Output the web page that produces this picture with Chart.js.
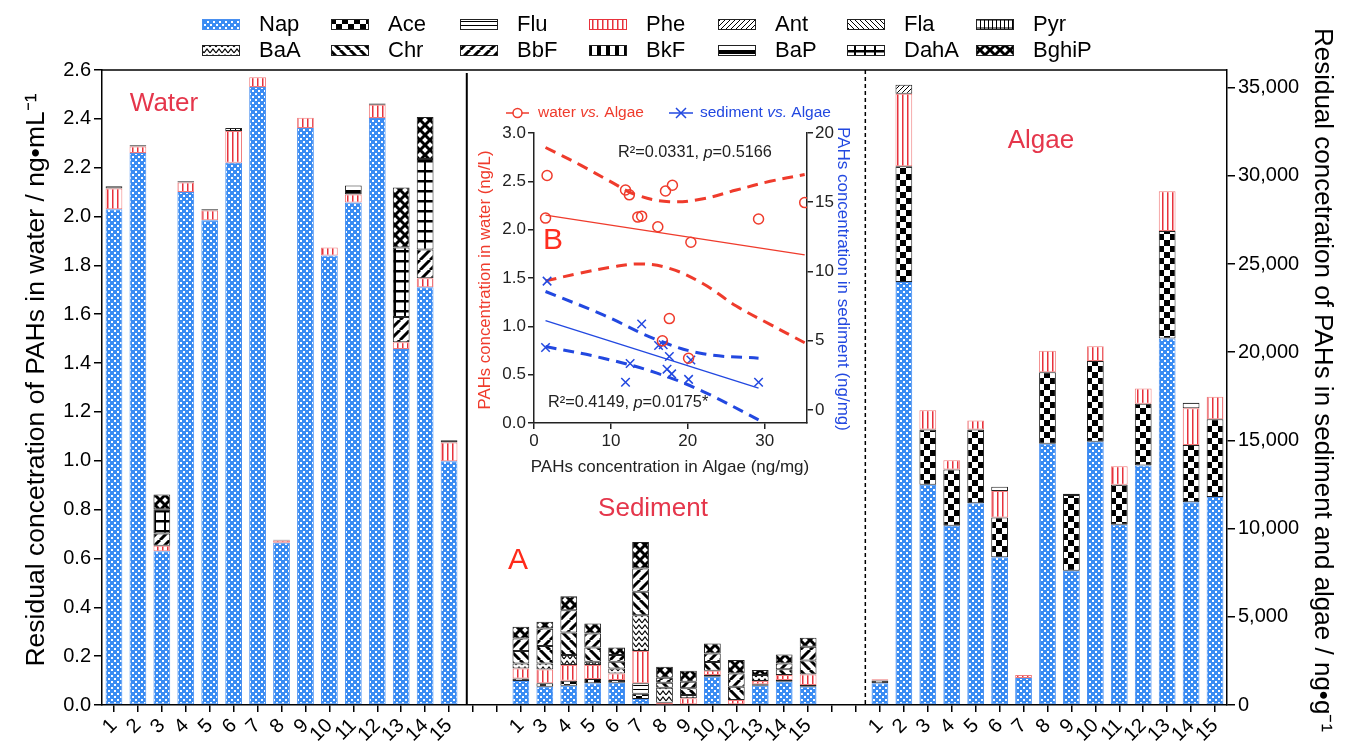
<!DOCTYPE html>
<html><head><meta charset="utf-8">
<script src="https://cdn.jsdelivr.net/npm/chart.js@4.4.1/dist/chart.umd.min.js"></script>
<style>
html,body{margin:0;padding:0;background:#fff;}
#wrap{position:relative;width:1347px;height:749px;overflow:hidden;}
#main{position:absolute;left:0;top:0;}
#inset{position:absolute;left:470px;top:85px;}
</style></head><body>
<div id="wrap"><canvas id="main" width="1347" height="749"></canvas><canvas id="inset" width="385" height="395"></canvas></div>
<script>
const FONT = "'Liberation Sans', Arial, Helvetica, sans-serif";

// ---------- categories ----------
const compounds = ['Nap','Ace','Flu','Phe','Ant','Fla','Pyr','BaA','Chr','BbF','BkF','BaP','DahA','BghiP'];
const waterSites = ['1','2','3','4','5','6','7','8','9','10','11','12','13','14','15'];
const sedimentSites = ['1','3','4','5','6','7','8','9','10','12','13','14','15'];
const algaeSites = ['1','2','3','4','5','6','7','8','9','10','11','12','13','14','15'];
const gapLabels = ['', ''];

// ---------- water (ng/mL, left axis) ----------
const waterNap   = [2.03,2.26,0.63,2.10,1.985,2.22,2.53,0.664,2.363,1.84,2.057,2.403,1.458,1.71,0.998];
const waterPhe   = [0.085,0.027,0.022,0.039,0.04,0.13,0.04,0.01,0.042,0.033,0.033,0.055,0.027,0.037,0.077];
const waterAnt   = [0,0,0,0,0,0.013,0,0,0,0,0,0,0,0,0];
const waterBbF   = [0,0,0.05,0,0,0,0,0,0,0,0,0,0.104,0.118,0];
const waterBaP   = [0.009,0.005,0,0.005,0.005,0,0,0.003,0,0,0.037,0.005,0,0,0.009];
const waterDahA  = [0,0,0.10,0,0,0,0,0,0,0,0,0,0.284,0.371,0];
const waterBghiP = [0,0,0.06,0,0,0,0,0,0,0,0,0,0.246,0.172,0];

// ---------- sediment (ng/g, right axis) ----------
const sedNap   = [1358,1038,1094,1226,1264,340,30,0,1604,0,1094,1320,1038];
const sedAce   = [151,188,283,246,151,300,0,0,94,0,76,95,94];
const sedFlu   = [0,0,0,0,0,586,0,0,0,0,0,0,0];
const sedPhe   = [566,793,887,792,377,1831,100,377,245,283,188,283,604];
const sedBaA   = [283,339,566,189,283,2037,843,189,0,0,340,0,0];
const sedChr   = [708,991,1274,802,378,1321,283,377,491,755,0,330,783];
const sedBbF   = [708,991,1273,802,377,1321,283,377,491,754,0,330,783];
const sedBghiP = [660,377,793,566,434,1509,623,623,565,755,283,510,509];

// ---------- algae (ng/g, right axis) ----------
const algaeNap = [1230,23977,12487,10166,11443,8379,1532,14808,7613,14924,10213,13578,20773,11489,11791];
const algaeAce = [163,6568,3133,3180,4177,2251,0,4062,4294,4573,2274,3505,6104,3249,4410];
const algaePhe = [69,4108,1091,534,511,1509,162,1207,0,835,1044,859,2252,2089,1276];
const algaeAnt = [0,510,0,0,0,0,0,0,0,0,0,0,0,0,0];
const algaeBaP = [0,0,0,0,0,232,0,0,70,0,0,0,0,302,0];

// ---------- tick labels ----------
const waterTicks = [0,0.2,0.4,0.6,0.8,1.0,1.2,1.4,1.6,1.8,2.0,2.2,2.4,2.6];
const rightTicks = [0,5000,10000,15000,20000,25000,30000,35000];

// ---------- inset (B) ----------
const algaeX_w  = [1.5,1.7,11.9,12.4,13.5,14.0,16.1,17.1,18.0,20.4,29.2,35.2,17.6,16.7,20.1];
const waterConc = [2.12,2.56,2.41,2.36,2.13,2.14,2.03,2.40,2.46,1.87,2.11,2.28,1.08,0.85,0.67];
const algaeX_s  = [1.7,1.5,14.0,11.9,12.5,16.2,16.8,17.6,17.3,17.9,20.4,20.1,29.2];
const sedConc   = [9.3,4.5,6.2,2.0,3.35,4.65,4.7,3.85,2.94,2.6,3.6,2.2,2.0];
const waterFitX = [1.5,35.2];
const waterFitY = [2.15,1.74];
const waterUpX  = [1.5,6,9.9,13.3,17.6,22,26.3,30.7,35.2];
const waterUpY  = [2.85,2.67,2.50,2.36,2.29,2.32,2.41,2.50,2.57];
const waterLoX  = [1.5,6,9.9,13.75,17.6,22,26.3,30.7,35.2];
const waterLoY  = [1.47,1.55,1.61,1.645,1.60,1.44,1.21,1.02,0.83];
const sedFitX   = [1.5,29.2];
const sedFitY   = [6.45,1.57];
const sedUpX    = [1.5,9,16,22,29.2];
const sedUpY    = [8.55,6.86,5.06,4.05,3.73];
const sedLoX    = [1.5,9,16,22,29.2];
const sedLoY    = [4.57,3.73,2.65,1.32,-0.72];

// ---------- tables built from the arrays ----------
const waterTable = {Nap:waterNap, Phe:waterPhe, Ant:waterAnt, BbF:waterBbF, BaP:waterBaP, DahA:waterDahA, BghiP:waterBghiP};
const sedTable   = {Nap:sedNap, Ace:sedAce, Flu:sedFlu, Phe:sedPhe, BaA:sedBaA, Chr:sedChr, BbF:sedBbF, BghiP:sedBghiP};
const algaeTable = {Nap:algaeNap, Ace:algaeAce, Phe:algaePhe, Ant:algaeAnt, BaP:algaeBaP};
const labels = [...waterSites, ...gapLabels, ...sedimentSites, ...gapLabels, ...algaeSites];

// ---------- patterns ----------
const mainCanvas = document.getElementById('main');
const mainCtx = mainCanvas.getContext('2d');
function tile(w, h, bg, draw) {
  const c = document.createElement('canvas'); c.width = w; c.height = h;
  const g = c.getContext('2d');
  g.fillStyle = bg; g.fillRect(0, 0, w, h);
  g.fillStyle = '#000'; g.strokeStyle = '#000';
  draw(g, w, h);
  return mainCtx.createPattern(c, 'repeat');
}
function diag(g, w, h, lw, dir) {
  g.lineWidth = lw; g.beginPath();
  for (let k = -1; k <= 1; k++) {
    if (dir > 0) { g.moveTo(k*w, h); g.lineTo(k*w + w, 0); }
    else { g.moveTo(k*w, 0); g.lineTo(k*w + w, h); }
  }
  g.stroke();
}
const patterns = {
  Nap: tile(6,6,'#3a8cf3', g => { g.fillStyle='#fff'; g.fillRect(0,0,2,2); g.fillRect(3,3,2,2); }),
  Ace: tile(12,12,'#fff', g => { g.fillRect(0,0,6,6); g.fillRect(6,6,6,6); }),
  Flu: tile(4,4,'#fff', g => { g.fillRect(0,1,4,1); }),
  Phe: tile(5,5,'#fff', g => { g.fillStyle='#e8323c'; g.fillRect(2,0,1.5,5); }),
  Ant: tile(5,5,'#fff', g => diag(g,5,5,1,1)),
  Fla: tile(5,5,'#fff', g => diag(g,5,5,1,-1)),
  Pyr: tile(4,8,'#fff', g => { g.fillRect(0,0,1,8); g.fillRect(0,3.5,4,1); }),
  BaA: tile(6,6,'#fff', g => { g.lineWidth=1.2; g.beginPath(); g.moveTo(0,5); g.lineTo(3,1); g.lineTo(6,5); g.stroke(); }),
  Chr: tile(10,10,'#fff', g => diag(g,10,10,3,-1)),
  BbF: tile(10,10,'#fff', g => diag(g,10,10,3,1)),
  BkF: tile(9,2,'#fff', g => { g.fillRect(3,0,4,2); }),
  BaP: tile(2,10,'#fff', g => { g.fillRect(0,0,2,4); }),
  DahA: tile(10,10,'#fff', g => { g.fillRect(0,0,10,2.5); g.fillRect(4,0,2,10); }),
  BghiP: tile(10,10,'#fff', g => { diag(g,10,10,3,1); diag(g,10,10,3,-1); })
};
const borderCols = {Nap:'#4a90f0', Phe:'#f07b7b'};
function bcol(c){ return borderCols[c] || '#222'; }

// ---------- datasets ----------
const nW = waterSites.length, nS = sedimentSites.length, nA = algaeSites.length, nG = gapLabels.length;
function nz(v){ return v ? v : null; }
const datasets = [];
compounds.forEach(c => {
  const w = waterTable[c] || [], s = sedTable[c] || [], a = algaeTable[c] || [];
  const wData = labels.map((_, i) => i < nW ? nz(w[i]) : null);
  const rData = labels.map((_, i) => {
    const si = i - nW - nG; if (si >= 0 && si < nS) return nz(s[si]);
    const ai = si - nS - nG; if (ai >= 0 && ai < nA) return nz(a[ai]);
    return null;
  });
  const common = {label:c, stack:'all', backgroundColor:patterns[c], borderColor:bcol(c), borderWidth:1,
                  borderSkipped:false, barPercentage:0.7, categoryPercentage:1.0};
  datasets.push(Object.assign({data:wData, yAxisID:'y'}, common));
  datasets.push(Object.assign({data:rData, yAxisID:'y2'}, common));
});

// ---------- main decorations ----------
const mainDecor = {
  id:'mainDecor',
  afterDraw(chart){
    const ctx = chart.ctx, ca = chart.chartArea, xs = chart.scales.x;
    ctx.save();
    // top frame
    ctx.strokeStyle = '#000'; ctx.lineWidth = 1.5;
    ctx.beginPath(); ctx.moveTo(ca.left, ca.top); ctx.lineTo(ca.right, ca.top); ctx.stroke();
    // separators
    const step = xs.getPixelForValue(1) - xs.getPixelForValue(0);
    const xSolid = xs.getPixelForValue(nW - 1) + 0.74 * step;
    const xDash = xs.getPixelForValue(nW + nG + nS + nG - 1) + 0.39 * step;
    ctx.lineWidth = 2;
    ctx.beginPath(); ctx.moveTo(xSolid, ca.top + 3); ctx.lineTo(xSolid, ca.bottom); ctx.stroke();
    ctx.lineWidth = 1.5; ctx.setLineDash([4,3]);
    ctx.beginPath(); ctx.moveTo(xDash, ca.top); ctx.lineTo(xDash, ca.bottom); ctx.stroke();
    ctx.setLineDash([]);
    // axis titles
    ctx.fillStyle = '#000'; ctx.textAlign = 'center'; ctx.textBaseline = 'middle';
    ctx.font = `26.5px ${FONT}`;
    ctx.save(); ctx.translate(37, 380); ctx.rotate(-Math.PI/2);
    ctx.fillText('Residual concetration of PAHs in water / ng\u2022mL\u207B\u00B9', 0, 0); ctx.restore();
    ctx.font = `26px ${FONT}`;
    ctx.save(); ctx.translate(1322, 380); ctx.rotate(Math.PI/2);
    ctx.fillText('Residual concetration of PAHs in sediment and algae / ng\u2022g\u207B\u00B9', 0, 0); ctx.restore();
    // panel labels
    ctx.fillStyle = '#e5364b'; ctx.font = `26px ${FONT}`;
    ctx.fillText('Water', 164, 104);
    ctx.fillText('Sediment', 653, 509);
    ctx.fillText('Algae', 1041, 141);
    ctx.fillStyle = '#ff2a1a'; ctx.font = `30px ${FONT}`;
    ctx.fillText('A', 518, 561);
    // legend
    ctx.font = `22px ${FONT}`; ctx.textAlign = 'left';
    compounds.forEach((c, i) => {
      const row = Math.floor(i / 7), col = i % 7;
      const x = 202 + col * 129, y = 24 + row * 26;
      ctx.fillStyle = patterns[c]; ctx.fillRect(x, y - 5, 38, 11);
      ctx.strokeStyle = c === 'Nap' ? '#4a90f0' : (c === 'Phe' ? '#e8323c' : '#222');
      ctx.lineWidth = 1; ctx.strokeRect(x + 0.5, y - 4.5, 37, 10);
      ctx.fillStyle = '#000'; ctx.fillText(c, x + 57, y + 1);
    });
    ctx.restore();
  }
};

new Chart(mainCanvas, {
  type:'bar',
  data:{labels, datasets},
  options:{
    responsive:false, animation:false, devicePixelRatio:1,
    layout:{padding:{top:70,left:0,right:0,bottom:0}},
    plugins:{legend:{display:false}, tooltip:{enabled:false}},
    scales:{
      x:{stacked:true, offset:true,
         grid:{drawOnChartArea:false, drawTicks:true, tickLength:7, offset:false, color:'#000', lineWidth:1.5},
         border:{display:true, color:'#000', width:1.5},
         ticks:{autoSkip:false, maxRotation:45, minRotation:45, padding:2, color:'#000', font:{family:FONT, size:20}},
         afterFit(s){ s.height = 44; }},
      y:{position:'left', stacked:true, min:0, max:2.6,
         afterBuildTicks(s){ s.ticks = waterTicks.map(v => ({value:v})); },
         ticks:{callback:v => Number(v).toFixed(1), color:'#000', padding:3, font:{family:FONT, size:20}},
         grid:{drawOnChartArea:false, tickLength:8, color:'#000', lineWidth:1.5},
         border:{display:true, color:'#000', width:1.5},
         afterFit(s){ s.width = 102; }},
      y2:{position:'right', stacked:true, min:0, max:36000,
         afterBuildTicks(s){ s.ticks = rightTicks.map(v => ({value:v})); },
         ticks:{callback:v => Number(v).toLocaleString('en-US'), color:'#000', padding:3, font:{family:FONT, size:20}},
         grid:{drawOnChartArea:false, tickLength:8, color:'#000', lineWidth:1.5},
         border:{display:true, color:'#000', width:1.5},
         afterFit(s){ s.width = 120; }}
    }
  },
  plugins:[mainDecor]
});

// ---------- inset chart ----------
const RED = '#ef3b2c', BLUE = '#2248e0';
function pts(xs, ys){ return xs.map((x, i) => ({x, y:ys[i]})); }
function richText(ctx, parts, x, y, color, size) {
  ctx.fillStyle = color; ctx.textAlign = 'left'; ctx.textBaseline = 'middle';
  let cx = x;
  parts.forEach(([t, it]) => {
    ctx.font = `${it ? 'italic ' : ''}${size}px ${FONT}`;
    ctx.fillText(t, cx, y); cx += ctx.measureText(t).width;
  });
}
const insetDecor = {
  id:'insetDecor',
  afterDraw(chart){
    const ctx = chart.ctx;
    ctx.save();
    const ly = 28;
    // legend: water
    ctx.lineWidth = 1.5; ctx.strokeStyle = RED;
    ctx.beginPath(); ctx.moveTo(36, ly); ctx.lineTo(59, ly); ctx.stroke();
    ctx.fillStyle = '#fff'; ctx.beginPath(); ctx.arc(47.5, ly, 4.5, 0, Math.PI*2); ctx.fill(); ctx.stroke();
    richText(ctx, [['water ', false], ['vs.', true], [' Algae', false]], 68, ly, RED, 15.5);
    // legend: sediment
    ctx.strokeStyle = BLUE;
    ctx.beginPath(); ctx.moveTo(199, ly); ctx.lineTo(223, ly); ctx.stroke();
    ctx.beginPath(); ctx.moveTo(206, ly-5); ctx.lineTo(216, ly+5); ctx.moveTo(216, ly-5); ctx.lineTo(206, ly+5); ctx.stroke();
    richText(ctx, [['sediment ', false], ['vs.', true], [' Algae', false]], 230, ly, BLUE, 15.5);
    // stats
    richText(ctx, [['R\u00B2=0.0331, ', false], ['p', true], ['=0.5166', false]], 148, 68, '#222', 16.3);
    richText(ctx, [['R\u00B2=0.4149, ', false], ['p', true], ['=0.0175*', false]], 78, 318, '#222', 16.3);
    // B
    ctx.fillStyle = '#ff2d1f'; ctx.font = `30px ${FONT}`; ctx.textAlign = 'center'; ctx.textBaseline = 'middle';
    ctx.fillText('B', 83, 156);
    // axis titles
    ctx.font = `17px ${FONT}`;
    ctx.fillStyle = '#222'; ctx.fillText('PAHs concentration in Algae (ng/mg)', 200, 382);
    ctx.save(); ctx.translate(15, 195); ctx.rotate(-Math.PI/2); ctx.fillStyle = RED;
    ctx.font = `16.8px ${FONT}`;
    ctx.fillText('PAHs concentration in water (ng/L)', 0, 0); ctx.restore();
    ctx.save(); ctx.translate(373, 194); ctx.rotate(Math.PI/2); ctx.fillStyle = BLUE;
    ctx.font = `17px ${FONT}`;
    ctx.fillText('PAHs concentration in sediment (ng/mg)', 0, 0); ctx.restore();
    ctx.restore();
  }
};
const dashed = {showLine:true, pointRadius:0, borderWidth:3, borderDash:[11,7], tension:0.4, fill:false};
new Chart(document.getElementById('inset'), {
  type:'scatter',
  data:{datasets:[
    {label:'water vs. Algae', data:pts(algaeX_w, waterConc), yAxisID:'y', showLine:false, pointStyle:'circle',
     pointRadius:5, pointBorderWidth:1.5, pointBorderColor:RED, pointBackgroundColor:'rgba(255,255,255,0)'},
    {label:'sediment vs. Algae', data:pts(algaeX_s, sedConc), yAxisID:'y2', showLine:false, pointStyle:'crossRot',
     pointRadius:6, pointBorderWidth:1.5, pointBorderColor:BLUE},
    {label:'water fit', data:pts(waterFitX, waterFitY), yAxisID:'y', showLine:true, pointRadius:0, borderColor:RED, borderWidth:1.3},
    Object.assign({label:'water CI upper', data:pts(waterUpX, waterUpY), yAxisID:'y', borderColor:RED}, dashed),
    Object.assign({label:'water CI lower', data:pts(waterLoX, waterLoY), yAxisID:'y', borderColor:RED}, dashed),
    {label:'sediment fit', data:pts(sedFitX, sedFitY), yAxisID:'y2', showLine:true, pointRadius:0, borderColor:BLUE, borderWidth:1.3},
    Object.assign({label:'sediment CI upper', data:pts(sedUpX, sedUpY), yAxisID:'y2', borderColor:BLUE}, dashed),
    Object.assign({label:'sediment CI lower', data:pts(sedLoX, sedLoY), yAxisID:'y2', borderColor:BLUE}, dashed)
  ]},
  options:{
    responsive:false, animation:false, devicePixelRatio:1,
    layout:{padding:{top:48,left:0,right:0,bottom:0}},
    plugins:{legend:{display:false}, tooltip:{enabled:false}},
    scales:{
      x:{type:'linear', min:0, max:35.5,
         ticks:{stepSize:10, includeBounds:false, color:'#222', padding:2, font:{family:FONT, size:17}},
         grid:{drawOnChartArea:false, tickLength:6, color:'#222', lineWidth:1.5},
         border:{display:true, color:'#222', width:1.5},
         afterFit(s){ s.height = 57; }},
      y:{position:'left', min:0, max:3,
         ticks:{stepSize:0.5, callback:v => Number(v).toFixed(1), color:'#222', padding:2, font:{family:FONT, size:17}},
         grid:{drawOnChartArea:false, tickLength:6, color:'#222', lineWidth:1.5},
         border:{display:true, color:'#222', width:1.5},
         afterFit(s){ s.width = 64; }},
      y2:{position:'right', min:-0.95, max:20,
         ticks:{stepSize:5, includeBounds:false, color:'#222', padding:2, font:{family:FONT, size:17}},
         grid:{drawOnChartArea:false, tickLength:6, color:'#222', lineWidth:1.5},
         border:{display:true, color:'#222', width:1.5},
         afterFit(s){ s.width = 48; }}
    }
  },
  plugins:[insetDecor]
});
</script>
</body></html>
